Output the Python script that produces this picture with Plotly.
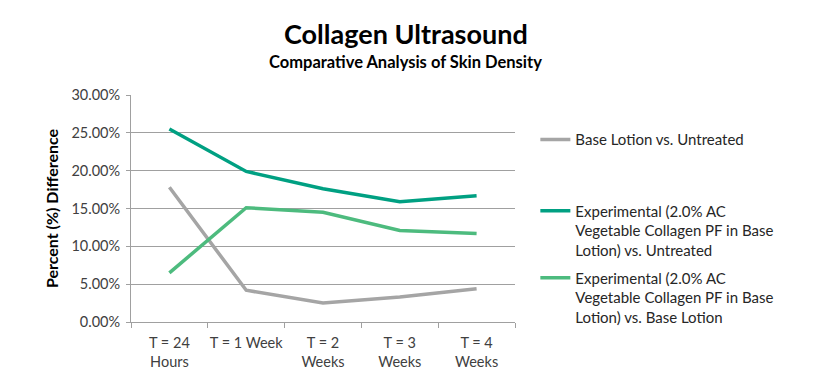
import plotly.graph_objects as go

categories = ["T = 24<br>Hours", "T = 1 Week", "T = 2<br>Weeks", "T = 3<br>Weeks", "T = 4<br>Weeks"]
base_vs_untreated = [0.178, 0.042, 0.025, 0.033, 0.044]
exp_vs_untreated = [0.255, 0.199, 0.176, 0.159, 0.167]
exp_vs_base = [0.065, 0.151, 0.145, 0.121, 0.117]

names = [
    "Base Lotion vs. Untreated",
    "Experimental (2.0% AC<br>Vegetable Collagen PF in Base<br>Lotion) vs. Untreated",
    "Experimental (2.0% AC<br>Vegetable Collagen PF in Base<br>Lotion) vs. Base Lotion",
]
colors = ["#A5A5A5", "#00A082", "#4DBB7E"]
series = [base_vs_untreated, exp_vs_untreated, exp_vs_base]
legends = ["legend", "legend2", "legend3"]

FONT = "Lato"
fig = go.Figure()
for vals, name, col, lg in zip(series, names, colors, legends):
    fig.add_trace(go.Scatter(x=categories, y=vals, name=name, mode="lines",
                             line=dict(color=col, width=3.5), legend=lg))

legend_common = dict(xref="paper", yref="paper", xanchor="left", yanchor="top",
                     font=dict(family=FONT, size=15, color="#262626"),
                     bgcolor="rgba(0,0,0,0)", itemwidth=30, valign="top",
                     tracegroupgap=0)
fig.update_layout(
    width=824, height=380,
    margin=dict(l=123, r=317, t=87, b=66, autoexpand=False),
    paper_bgcolor="white", plot_bgcolor="white",
    font=dict(family=FONT, color="#404040"),
    showlegend=True,
    legend=dict(x=1.053, y=0.876, **legend_common),
    legend2=dict(x=1.053, y=0.562, **legend_common),
    legend3=dict(x=1.053, y=0.266, **legend_common),
    xaxis=dict(type="category", tickson="boundaries", ticks="outside", ticklen=5,
               tickcolor="#A0A0A0", showline=True, linecolor="#A0A0A0", linewidth=1,
               showgrid=False, tickfont=dict(family=FONT, size=14.5, color="#404040"),
               tickangle=0, ticklabelstandoff=8, automargin=False,
               range=[-0.5, 4.5]),
    yaxis=dict(range=[0, 0.30], dtick=0.05, tickformat=".2%", showgrid=True,
               gridcolor="#A0A0A0", gridwidth=1, showline=True, linecolor="#A0A0A0",
               ticks="outside", ticklen=4, tickcolor="#A0A0A0", zeroline=False,
               ticklabelstandoff=3, automargin=False,
               tickfont=dict(family=FONT, size=14.5, color="#404040"),
               title=dict(text="<b>Percent (%) Difference</b>", standoff=8,
                          font=dict(family=FONT, size=16, color="black"))),
    annotations=[
        dict(text="<b>Collagen Ultrasound</b>", xref="paper", yref="paper",
             x=0.716, y=1.0, xanchor="center", yanchor="middle", yshift=62,
             showarrow=False, font=dict(family=FONT, size=27, color="black"), align="center"),
        dict(text="<b>Comparative Analysis of Skin Density</b>", xref="paper", yref="paper",
             x=0.716, y=1.0, xanchor="center", yanchor="middle", yshift=33,
             showarrow=False, font=dict(family=FONT, size=16.5, color="black"), align="center"),
    ],
)
fig.write_html("out.html")
